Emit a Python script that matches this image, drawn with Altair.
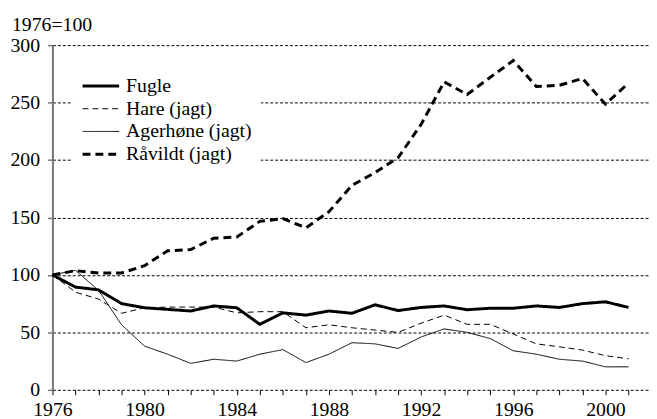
import altair as alt
import pandas as pd

years = list(range(1976, 2002))
fugle = [100, 89.4, 87, 75, 71.4, 70, 68.6, 73, 71.4, 57, 67, 65, 68.6,
         66.6, 74, 69, 71.7, 73, 69.7, 71, 71, 73, 71.7, 75, 76.6, 71.7]
hare = [100, 85, 79, 66.6, 71.4, 72, 72, 72, 67, 68, 68, 54, 56.6,
        54, 52, 50, 58, 65, 57, 57, 48.6, 40, 37.4, 34.6, 29.7, 27]
agerhone = [100, 104, 86.6, 56.6, 38, 31, 23, 26.6, 25, 31, 35, 23.7, 31,
            41, 40, 36, 46, 53, 50, 44.6, 34, 31, 26.6, 25, 20, 20]
raavildt = [100, 103.7, 101.7, 101.7, 108, 121, 122, 132, 133, 146.6, 149, 141, 155,
            178, 189, 202, 231, 268, 257, 272, 286.6, 264, 265, 271, 248.6, 267]

series_names = ["Fugle", "Hare (jagt)", "Agerhøne (jagt)", "Råvildt (jagt)"]
y_ticks = [0, 50, 100, 150, 200, 250, 300]

rows = []
for name, vals in zip(series_names, [fugle, hare, agerhone, raavildt]):
    for yr, v in zip(years, vals):
        rows.append({"year": yr, "value": v, "series": name})
df = pd.DataFrame(rows)

FONT = "Liberation Serif, Times New Roman, serif"
dash_range = [[1, 0], [6, 4], [1, 0], [8, 5]]
width_range = [3, 1, 1, 3]

chart = alt.Chart(df).mark_line().encode(
    x=alt.X("year:Q",
            scale=alt.Scale(domain=[1976, 2001.89], nice=False, zero=False),
            axis=alt.Axis(values=years, format="d",
                          labelExpr="datum.value % 4 == 0 ? datum.label : ''",
                          grid=False, domain=False, tickColor="black", tickSize=5,
                          labelFont=FONT, labelFontSize=20, labelColor="black",
                          labelPadding=5, labelFlush=False, labelOverlap=False,
                          labelBound=False, title=None)),
    y=alt.Y("value:Q",
            scale=alt.Scale(domain=[0, 300], nice=False),
            axis=alt.Axis(values=y_ticks, grid=True, gridDash=[3, 2], gridColor="black",
                          gridWidth=1, domainColor="#777777", domainWidth=2,
                          tickColor="#777777", tickWidth=1.5, tickSize=5,
                          labelFont=FONT, labelFontSize=20, labelColor="black",
                          labelPadding=8, title=None)),
    color=alt.Color("series:N",
                    scale=alt.Scale(domain=series_names, range=["black"] * 4),
                    legend=alt.Legend(title=None, orient="none", legendX=20, legendY=21,
                                      fillColor="white", padding=9, symbolType="stroke",
                                      symbolSize=1369, clipHeight=22.8, rowPadding=0,
                                      labelOffset=5.5, labelFont=FONT, labelFontSize=20,
                                      labelColor="black")),
    strokeDash=alt.StrokeDash("series:N",
                              scale=alt.Scale(type="ordinal", domain=series_names,
                                              range=dash_range)),
    strokeWidth=alt.StrokeWidth("series:N",
                                scale=alt.Scale(type="ordinal", domain=series_names,
                                                range=width_range)),
).properties(
    width=604,
    height=349,
    autosize=alt.AutoSizeParams(type="none"),
    padding={"left": 45, "top": 35, "right": 0, "bottom": 30},
    title=alt.TitleParams(text="1976=100", anchor="start", frame="group", dx=-41, dy=2,
                          font=FONT, fontSize=20, fontWeight="normal", color="black",
                          offset=2),
).configure_view(strokeWidth=0)

chart.save("out.html", embed_options={"renderer": "svg", "actions": False})
